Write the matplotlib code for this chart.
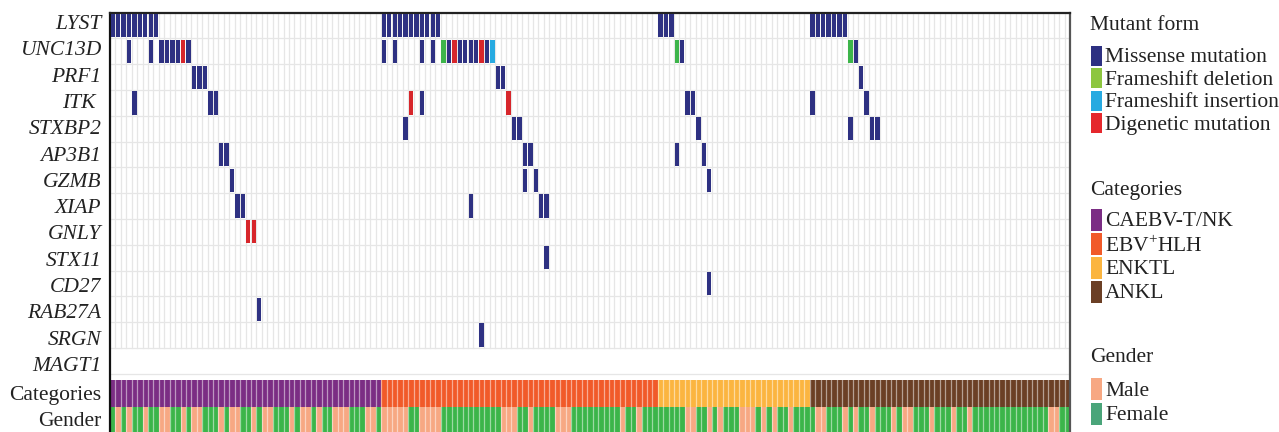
import matplotlib
matplotlib.use("Agg")
import matplotlib.pyplot as plt
from matplotlib.patches import Rectangle

plt.rcParams["font.family"] = ["Liberation Serif", "DejaVu Serif"]
plt.rcParams["mathtext.fontset"] = "custom"
plt.rcParams["mathtext.rm"] = "Liberation Serif"

# ---- data -------------------------------------------------------------
genes = ["LYST", "UNC13D", "PRF1", "ITK ", "STXBP2", "AP3B1", "GZMB", "XIAP",
         "GNLY", "STX11", "CD27", "RAB27A", "SRGN", "MAGT1"]

category_names = ["CAEBV-T/NK", "EBV$^{+}$HLH", "ENKTL", "ANKL"]
category_sizes = [50, 51, 28, 48]
category_colors = ["#7B2D84", "#F15A29", "#FBB540", "#6B3F25"]

mutation_names = ["Missense mutation", "Frameshift deletion",
                  "Frameshift insertion", "Digenetic mutation"]
mutation_colors = ["#2E3182", "#3DB54A", "#27AAE1", "#D7262B"]
legend_mutation_colors = ["#2E3182", "#8DC63F", "#27AAE1", "#E5282D"]

gender_names = ["Male", "Female"]
gender_colors = ["#F7A883", "#3BB54A"]
legend_gender_colors = ["#F7A883", "#4AA57A"]

# sample indices carrying each kind of alteration, per gene
missense = {
    "LYST": [0, 1, 2, 3, 4, 5, 6, 7, 8, 50, 51, 52, 53, 54, 55, 56, 57, 58, 59, 60,
             101, 102, 103, 129, 130, 131, 132, 133, 134, 135],
    "UNC13D": [3, 7, 9, 10, 11, 12, 14, 50, 52, 57, 59, 62, 64, 65, 66, 67, 69, 105, 137],
    "PRF1": [15, 16, 17, 71, 72, 138],
    "ITK ": [4, 18, 19, 57, 106, 107, 129, 139],
    "STXBP2": [54, 74, 75, 108, 136, 140, 141],
    "AP3B1": [20, 21, 76, 77, 104, 109],
    "GZMB": [22, 76, 78, 110],
    "XIAP": [23, 24, 66, 79, 80],
    "STX11": [80],
    "CD27": [110],
    "RAB27A": [27],
    "SRGN": [68],
}
frameshift_deletion = {"UNC13D": [61, 104, 136]}
frameshift_insertion = {"UNC13D": [70]}
digenetic = {"UNC13D": [13, 63, 68], "ITK ": [55, 73], "GNLY": [25, 26]}

# 0 = male, 1 = female, one entry per sample
gender = [1, 0, 1, 0, 1, 1, 0, 1, 1, 0, 0, 1, 1, 0, 1, 0, 0, 1, 1, 1,
          0, 1, 0, 0, 1, 1, 0, 1, 0, 0, 1, 1, 1, 0, 1, 0, 0, 1, 0, 1,
          1, 0,
          0, 0, 1, 1, 1, 0, 0, 1,
          0, 0, 0, 0, 0, 1, 1, 0, 0, 0,
          0, 1, 1, 1, 1, 1, 1, 1, 1, 1,
          1, 1, 0, 0, 0, 1, 1, 0, 1, 1,
          1, 1, 0, 0, 0, 1, 1, 1, 1, 1,
          1, 1, 1, 1, 0, 1, 1, 0, 1, 1,
          1, 1, 1, 1, 1, 1, 0, 0, 1, 1,
          0, 1, 0, 1, 1, 1, 0, 0, 0, 1,
          0, 1, 0, 1, 1, 0, 1, 1, 1, 1,
          0, 0, 1, 1, 1, 0, 1, 0, 1, 1,
          0, 1, 1, 1, 0, 1, 0, 0, 1, 1,
          1, 0, 1, 1, 1, 0, 1, 1, 0, 1,
          1, 1, 1, 1, 1, 1, 1, 1, 1, 1,
          1, 1, 1, 0, 0, 1, 1]

# ---- layout -------------------------------------------------------------
W, H = 1279, 432
fig = plt.figure(figsize=(W / 100, H / 100), dpi=100)

ax_left, ax_right, ax_top = 110, 1070, 12.7
ax = fig.add_axes([ax_left / W, 0, (ax_right - ax_left) / W, 1 - ax_top / H])

n_samples = sum(category_sizes)
n_genes = len(genes)
cat_top = n_genes + 0.25
gen_top = cat_top + 1.03
y_bottom = gen_top + 0.98

ax.set_xlim(0, n_samples)
ax.set_ylim(y_bottom, 0)
ax.set_xticks([])
ax.set_yticks([])

grid_color = "#E6E6E6"
# cell grid over the gene rows that hold samples
for c in range(n_samples + 1):
    ax.plot([c, c], [0, n_genes - 1], color=grid_color, lw=0.9, zorder=1)
for r in range(n_genes + 1):
    ax.plot([0, n_samples], [r, r], color=grid_color, lw=0.9, zorder=1)

def draw_cells(table, color):
    for gene, samples in table.items():
        row = genes.index(gene)
        for s in samples:
            ax.add_patch(Rectangle((s + 0.1, row + 0.05), 0.8, 0.9,
                                   facecolor=color, edgecolor="none", zorder=3))

draw_cells(missense, mutation_colors[0])
draw_cells(frameshift_deletion, mutation_colors[1])
draw_cells(frameshift_insertion, mutation_colors[2])
draw_cells(digenetic, mutation_colors[3])

# annotation rows
start = 0
for size, color in zip(category_sizes, category_colors):
    ax.add_patch(Rectangle((start, cat_top), size, gen_top - cat_top,
                           facecolor=color, edgecolor="none", zorder=2))
    start += size
for s, g in enumerate(gender):
    ax.add_patch(Rectangle((s, gen_top), 1, y_bottom - gen_top,
                           facecolor=gender_colors[g], edgecolor="none", zorder=2))
for c in range(1, n_samples):
    ax.plot([c, c], [cat_top, y_bottom], color="white", lw=0.9, alpha=0.5, zorder=4)

ax.spines["bottom"].set_visible(False)
ax.spines["left"].set_color("#111111")
ax.spines["left"].set_linewidth(1.6)
ax.spines["top"].set_color("#222222")
ax.spines["top"].set_linewidth(1.6)
ax.spines["right"].set_color("#555555")
ax.spines["right"].set_linewidth(1.6)

# row labels
FS = 15.5
for r, g in enumerate(genes):
    ax.text(-1.6, r + 0.5 - 0.04 + 0.02 * r, g, ha="right", va="center",
            fontsize=FS, style="italic", color="#222222")
ax.text(-1.6, (cat_top + gen_top) / 2 + 0.08, "Categories", ha="right", va="center",
        fontsize=FS, color="#222222")
ax.text(-1.6, (gen_top + y_bottom) / 2 + 0.08, "Gender", ha="right", va="center",
        fontsize=FS, color="#222222")

# ---- legends --------------------------------------------------------------
def fx(px):
    return px / W

def fy(py):
    return 1 - py / H

def legend_block(title, title_y, names, colors, first_y, step, sw_h):
    fig.text(fx(1090), fy(title_y + 2), title, ha="left", va="center",
             fontsize=FS, color="#222222")
    for i, (name, color) in enumerate(zip(names, colors)):
        yc = first_y + i * step
        fig.patches.append(Rectangle((fx(1091), fy(yc + sw_h / 2)), 11 / W, sw_h / H,
                                     transform=fig.transFigure, facecolor=color,
                                     edgecolor="none"))
        fig.text(fx(1105), fy(yc + 2), name, ha="left", va="center",
                 fontsize=FS, color="#222222")

legend_block("Mutant form", 24, mutation_names, legend_mutation_colors, 56, 22.4, 20)
legend_block("Categories", 188, category_names, category_colors, 220, 24, 22)
legend_block("Gender", 355, gender_names, legend_gender_colors, 389, 25, 22)

fig.savefig("out.png", dpi=100)
